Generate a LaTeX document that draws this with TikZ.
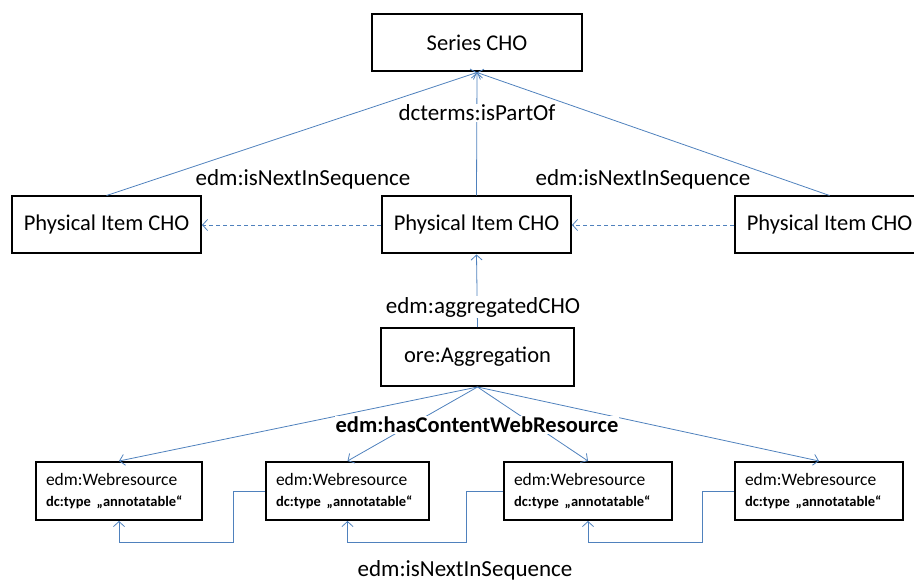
\documentclass[tikz,border=0pt]{standalone}
\usepackage{fontspec}
\setmainfont{Carlito}
\usepackage{tikz}
\usetikzlibrary{arrows,arrows.meta}
\usetikzlibrary{positioning}

\definecolor{linkblue}{RGB}{79,129,189}

\begin{document}
\begin{tikzpicture}
	[x=1pt,y=-1pt,>={Straight Barb[length=5pt,width=11pt]},
	 box/.style={draw,line width=2pt,minimum height=57pt,inner sep=0pt,font=\fontsize{22.5}{24}\selectfont},
	 wrbox/.style={draw,line width=2pt,minimum height=58pt,inner ysep=0pt,inner xsep=10pt,align=left,font=\fontsize{17.5}{21}\selectfont},
	 lbl/.style={font=\fontsize{23}{25}\selectfont,inner sep=1pt},
	 link/.style={draw=linkblue,line width=0.8pt}]
	\useasboundingbox (0,0) rectangle (914,583);
	\node[box,minimum width=210pt] (series) at (477,43) {Series CHO};
	\node[box,minimum width=189pt] (pl) at (106.5,225) {Physical Item CHO};
	\node[box,minimum width=189pt] (pm) at (476.5,225) {Physical Item CHO};
	\node[box,minimum width=189pt] (pr) at (829.5,225) {Physical Item CHO};
	\node[box,minimum width=193pt,minimum height=58pt] (agg) at (477.5,357) {ore:Aggregation};
	\foreach \n/\x/\tw in {wr1/119/146, wr2/347.5/143, wr3/588/148, wr4/819/148}
	\node[wrbox,text width=\tw pt] (\n) at (\x,491)
		{edm:Webresource\\
		 {\fontsize{14.5}{21}\selectfont\bfseries dc:type „annotatable“}};
	
	% links to the series
	\foreach \from in {pl,pm,pr}
	\draw[link,->] (\from.north) -- (series.south);
	\node[lbl,fill=white] (partof) at (477,113) {dcterms:isPartOf};
	\node[lbl] (nextl) at (303,179) {edm:isNextInSequence};
	\node[lbl] (nextr) at (643,179) {edm:isNextInSequence};
	\foreach \from/\to in {pm/pl, pr/pm}
	\draw[link,dash pattern=on 4pt off 3pt,->] (\from.west) -- (\to.east);
	
	% aggregation
	\draw[link,->] (agg.north) -- (pm.south);
	\node[lbl,fill=white] (aggcho) at (483,307) {edm:aggregatedCHO};
	\foreach \to in {wr1,wr2,wr3,wr4}
	\draw[link,->] (agg.south) -- (\to.north);
	\node[lbl,fill=white,font=\fontsize{22.5}{24}\selectfont\bfseries] (hascwr) at (477,425) {edm:hasContentWebResource};
	
	% sequence of web resources
	\foreach \from/\to/\d in {wr2/wr1/32, wr3/wr2/37, wr4/wr3/32}
	\draw[link,->] (\from.west) -- ++(-\d,0) -- ++(0,51) -| (\to.south);
	\node[lbl] (nextb) at (465,570) {edm:isNextInSequence};
\end{tikzpicture}
\end{document}
